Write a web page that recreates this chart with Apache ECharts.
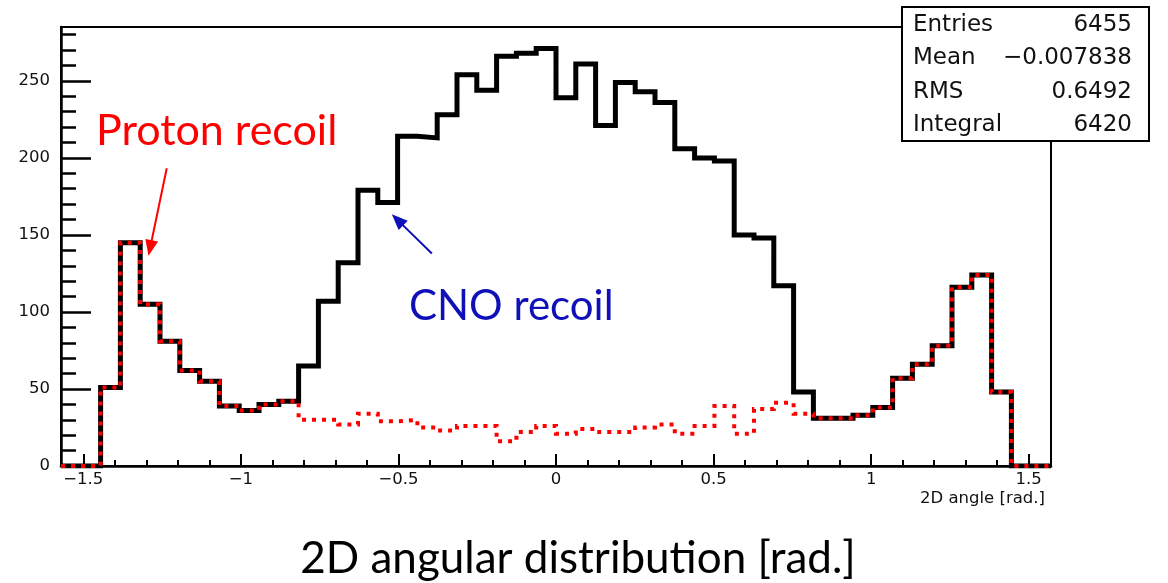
<!DOCTYPE html>
<html>
<head>
<meta charset="utf-8">
<script src="https://cdn.jsdelivr.net/npm/echarts@6/dist/echarts.min.js"></script>
<style>
  html, body { margin: 0; padding: 0; background: #ffffff; }
  #chart { width: 1168px; height: 583px; }
</style>
</head>
<body>
<div id="chart"></div>
<script>
// 2D angle histogram: 50 equal bins over [-pi/2, pi/2]
const angleMin = -Math.PI / 2;
const angleMax = Math.PI / 2;

// all recoils (solid black outline)
const allCounts = [
  0, 0, 51, 145, 105, 81, 62, 55, 39, 36,
  40, 42, 65, 107, 132, 179, 171, 214, 213, 228,
  254, 244, 266, 268, 271, 239, 261, 221, 249, 243,
  236, 206, 200, 198, 150, 148, 117, 48, 31, 31,
  33, 38, 57, 66, 78, 116, 124, 48, 0, 0
];

// proton recoil component (red dashed outline)
const protonCounts = [
  0, 0, 51, 145, 105, 81, 62, 55, 39, 36,
  40, 42, 30, 30, 27, 34, 29, 30, 25, 23,
  26, 26, 16, 22, 26, 21, 24, 22, 22, 25,
  27, 21, 26, 39, 21, 37, 41, 34, 31, 31,
  33, 38, 57, 66, 78, 116, 124, 48, 0, 0
];

const xTickValues = [-1.5, -1, -0.5, 0, 0.5, 1, 1.5];
const yTickValues = [0, 50, 100, 150, 200, 250];
const yMax = 285;

const statsLabels = ['Entries', 'Mean', 'RMS', 'Integral'];
const statsValues = ['6455', '\u22120.007838', '0.6492', '6420'];

// minor tick positions every 0.1 rad and every 10 counts
const xMinorTicks = [];
for (let k = -15; k <= 15; k++) xMinorTicks.push(+(k / 10).toFixed(1));
const yMinorTicks = [];
for (let v = 0; v <= 280; v += 10) yMinorTicks.push(v);

// histogram outline: one point at each bin's left edge, plus the right edge
function histPoints(counts) {
  const w = (angleMax - angleMin) / counts.length;
  const pts = counts.map((c, i) => [angleMin + i * w, c]);
  pts.push([angleMax, counts[counts.length - 1]]);
  return pts;
}

const rootFont = 'DejaVu Sans';
const noteFont = 'Lato';

const chart = echarts.init(document.getElementById('chart'), null, { renderer: 'canvas' });

const axisCommon = {
  type: 'value',
  splitLine: { show: false },
  minorSplitLine: { show: false }
};

const option = {
  animation: false,
  backgroundColor: '#ffffff',
  grid: {
    left: 61, right: 117, top: 27, bottom: 117,
    show: true, borderColor: '#000', borderWidth: 2,
    backgroundColor: 'transparent',
    containLabel: false,
    outerBoundsMode: 'none'
  },
  xAxis: [
    Object.assign({}, axisCommon, {
      min: angleMin, max: angleMax, position: 'bottom',
      axisLine: { show: true, onZero: false, lineStyle: { color: '#000', width: 2.5 } },
      axisTick: { show: true, inside: true, length: 12, customValues: xTickValues,
                  lineStyle: { color: '#000', width: 2 } },
      axisLabel: { show: true, customValues: xTickValues, margin: 5,
                   fontFamily: rootFont, fontSize: 16.5, color: '#111',
                   formatter: v => (v < 0 ? '\u2212' : '') + Math.abs(v) },
      name: '2D angle [rad.]', nameLocation: 'end', nameGap: -6,
      nameTextStyle: { fontFamily: rootFont, fontSize: 16.5, color: '#111',
                       align: 'right', verticalAlign: 'top', padding: [24, 0, 0, 0] }
    }),
    Object.assign({}, axisCommon, {
      min: angleMin, max: angleMax, position: 'bottom',
      axisLine: { show: false, onZero: false },
      axisTick: { show: true, inside: true, length: 6, customValues: xMinorTicks,
                  lineStyle: { color: '#000', width: 2 } },
      axisLabel: { show: false }
    })
  ],
  yAxis: [
    Object.assign({}, axisCommon, {
      min: 0, max: yMax, position: 'left',
      axisLine: { show: true, onZero: false, lineStyle: { color: '#000', width: 2.5 } },
      axisTick: { show: true, inside: true, length: 30, customValues: yTickValues,
                  lineStyle: { color: '#000', width: 2.5 } },
      axisLabel: { show: true, customValues: yTickValues, margin: 11,
                   fontFamily: rootFont, fontSize: 16.5, color: '#111' }
    }),
    Object.assign({}, axisCommon, {
      min: 0, max: yMax, position: 'left',
      axisLine: { show: false, onZero: false },
      axisTick: { show: true, inside: true, length: 15, customValues: yMinorTicks,
                  lineStyle: { color: '#000', width: 2.5 } },
      axisLabel: { show: false }
    })
  ],
  series: [
    {
      name: 'all',
      type: 'line',
      xAxisIndex: 0, yAxisIndex: 0,
      step: 'end',
      symbol: 'none',
      data: histPoints(allCounts),
      lineStyle: { color: '#000000', width: 5, cap: 'butt', join: 'miter' },
      z: 3
    },
    {
      name: 'proton',
      type: 'line',
      xAxisIndex: 0, yAxisIndex: 0,
      step: 'end',
      symbol: 'none',
      data: histPoints(protonCounts),
      lineStyle: { color: '#ff0000', width: 4, type: [4, 6], cap: 'butt', join: 'miter' },
      z: 4,
      markLine: {
        silent: true,
        symbol: ['none', 'triangle'],
        symbolSize: [13, 16],
        label: { show: false },
        emphasis: { disabled: true },
        data: [
          [ { coord: [-1.2353, 193.3], lineStyle: { color: '#ff0000', width: 2, type: 'solid' } },
            { coord: [-1.288, 141.5] } ],
          [ { coord: [-0.394, 137.9], lineStyle: { color: '#1010b8', width: 2, type: 'solid' },
              itemStyle: { color: '#1010b8' } },
            { coord: [-0.503, 159.8] } ]
        ]
      }
    }
  ],
  graphic: [
    {
      type: 'group', z: 100,
      children: [
        { type: 'rect', shape: { x: 902, y: 7, width: 247, height: 134 },
          style: { fill: '#ffffff', stroke: '#000000', lineWidth: 2 } }
      ].concat(statsLabels.map((t, i) => ({
        type: 'text', x: 913, y: 25 + i * 33.4,
        style: { text: t, font: '23px "' + rootFont + '"', fill: '#111',
                 textAlign: 'left', textVerticalAlign: 'middle' }
      }))).concat(statsValues.map((t, i) => ({
        type: 'text', x: 1132, y: 25 + i * 33.4,
        style: { text: t, font: '23px "' + rootFont + '"', fill: '#111',
                 textAlign: 'right', textVerticalAlign: 'middle' }
      })))
    },
    {
      type: 'text', x: 96, y: 131, z: 100,
      style: { text: 'Proton recoil', font: '43px "' + noteFont + '"', fill: '#ff0000',
               textAlign: 'left', textVerticalAlign: 'middle' }
    },
    {
      type: 'text', x: 409, y: 306, z: 100,
      style: { text: 'CNO recoil', font: '42px "' + noteFont + '"', fill: '#1010b8',
               textAlign: 'left', textVerticalAlign: 'middle' }
    },
    {
      type: 'text', x: 578, y: 559, z: 100,
      style: { text: '2D angular distribution [rad.]', font: '44px "' + noteFont + '"', fill: '#000000',
               textAlign: 'center', textVerticalAlign: 'middle' }
    }
  ]
};

chart.setOption(option);
</script>
</body>
</html>
